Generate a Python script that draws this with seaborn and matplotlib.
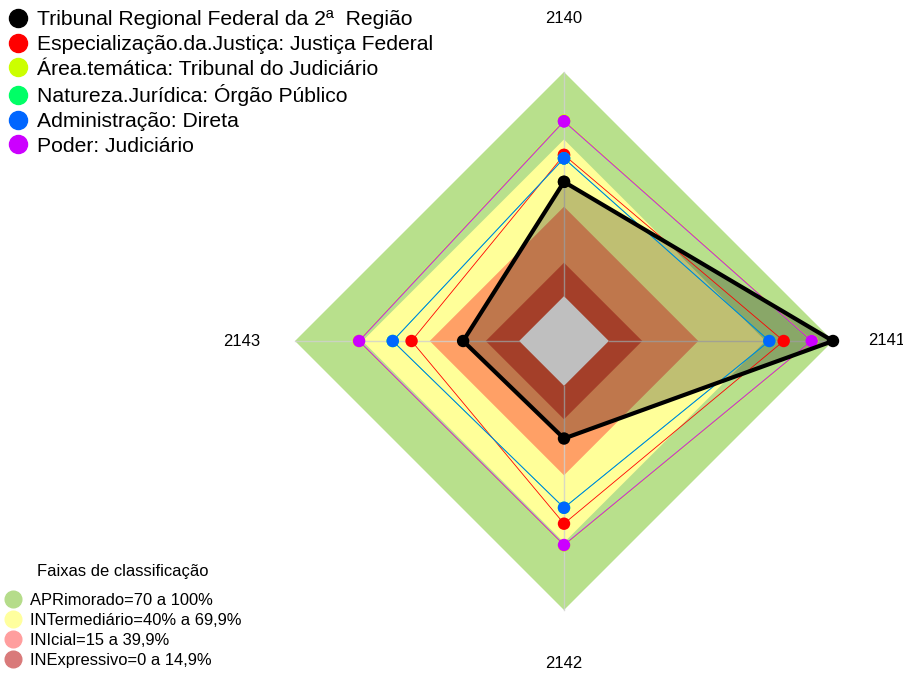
import numpy as np
import pandas as pd
import matplotlib.pyplot as plt
import seaborn as sns
from matplotlib.lines import Line2D

# axes of the radar, clockwise from the top
eixos = ['2140', '2141', '2142', '2143']

series_nomes = ['Tribunal Regional Federal da 2ª  Região',
                'Especialização.da.Justiça: Justiça Federal',
                'Área.temática: Tribunal do Judiciário',
                'Natureza.Jurídica: Órgão Público',
                'Administração: Direta',
                'Poder: Judiciário']
series_cores = ['#000000', '#FF0000', '#CCFF00', '#00FF66', '#0066FF', '#CC00FF']

tribunal = [51.0, 100.0, 23.5, 25.0]
especializacao = [63.0, 78.0, 61.5, 48.0]
area_tematica = [78.3, 90.7, 71.2, 71.6]
natureza = [61.5, 71.6, 54.4, 56.4]
administracao = [61.5, 71.6, 54.4, 56.4]
poder = [78.0, 90.5, 71.0, 71.4]

faixas_nomes = ['APRimorado=70 a 100%', 'INTermediário=40% a 69,9%',
                'INIcial=15 a 39,9%', 'INExpressivo=0 a 14,9%']
faixas_limites = [100, 69.9, 39.9, 14.9]
faixas_cores = ['#B8E08C', '#FFFF99', '#FFA066', '#DC5538']
faixas_legenda = ['#B5DC8A', '#FFFF9E', '#FF9E9E', '#D97A7A']

valores = [tribunal, especializacao, area_tematica, natureza, administracao, poder]

# fmsb-like scaling: 0 sits at 1/6 of the radius
def raio(v):
    return 1 / 6 + 5 / 6 * np.asarray(v, dtype=float) / 100

angulos = np.pi / 2 - np.arange(len(eixos)) * np.pi / 2

def polar(v):
    r = raio(v)
    return r * np.cos(angulos), r * np.sin(angulos)

linhas = []
for nome, vals in zip(series_nomes, valores):
    x, y = polar(vals)
    for i in list(range(len(eixos))) + [0]:
        linhas.append({'serie': nome, 'x': x[i], 'y': y[i], 'ordem': i})
df = pd.DataFrame(linhas)

plt.rcParams['font.family'] = ['Liberation Sans', 'DejaVu Sans']
fig = plt.figure(figsize=(9.04, 6.75), dpi=100)
ax = fig.add_axes([0, 0, 1, 1])
escala = 269
ax.set_xlim(-564 / escala, (904 - 564) / escala)
ax.set_ylim(-(675 - 341) / escala, 341 / escala)
ax.set_aspect('equal')
ax.axis('off')

# classification bands
for lim, cor in zip(faixas_limites, faixas_cores):
    x, y = polar([lim] * 4)
    ax.fill(x, y, color=cor, lw=0, zorder=1)
x, y = polar([0] * 4)
ax.fill(x, y, color='white', lw=0, zorder=1)

# axis lines
for a in angulos:
    ax.plot([raio(0) * np.cos(a), raio(100) * np.cos(a)],
            [raio(0) * np.sin(a), raio(100) * np.sin(a)],
            color='#D0D0D0', lw=1, alpha=0.8, zorder=2)

# main series fill
xt, yt = polar(tribunal)
ax.fill(xt, yt, color='black', alpha=0.25, lw=0, zorder=3)

# comparison series
for nome, cor in zip(series_nomes[1:], series_cores[1:]):
    d = df[df['serie'] == nome]
    sns.lineplot(data=d, x='x', y='y', sort=False, estimator=None, color=cor,
                 lw=0.6, ax=ax, zorder=4)
    sns.scatterplot(data=d, x='x', y='y', color=cor, s=80, edgecolor='none',
                    ax=ax, zorder=5)

d = df[df['serie'] == series_nomes[0]]
sns.lineplot(data=d, x='x', y='y', sort=False, estimator=None, color='black',
             lw=3, ax=ax, zorder=6)
sns.scatterplot(data=d, x='x', y='y', color='black', s=80, edgecolor='none',
                ax=ax, zorder=7)
ax.set_xlabel('')
ax.set_ylabel('')

# axis labels
for nome, a in zip(eixos, angulos):
    ax.text(1.2 * np.cos(a), 1.2 * np.sin(a), nome, ha='center', va='center',
            fontsize=12)

h1 = [Line2D([], [], marker='o', ls='', color=c, markersize=13) for c in series_cores]
leg1 = fig.legend(h1, series_nomes, loc='upper left',
                  bbox_to_anchor=(0.0, 1 - 6 / 675),
                  frameon=False, fontsize=15.2, handletextpad=0.25,
                  labelspacing=0.27, borderaxespad=0, borderpad=0.2,
                  handlelength=1.31)

h2 = [Line2D([], [], marker='o', ls='', color=c, markersize=12) for c in faixas_legenda]
leg2 = fig.legend(h2, faixas_nomes, loc='lower left', bbox_to_anchor=(0.0, 4 / 675),
                  frameon=False, fontsize=11.9, title='Faixas de classificação',
                  title_fontsize=11.9, handletextpad=0.44, labelspacing=0.3,
                  borderaxespad=0, borderpad=0.2, handlelength=1.18)
leg2._legend_box.sep = 10

fig.savefig('out.png', dpi=100)
